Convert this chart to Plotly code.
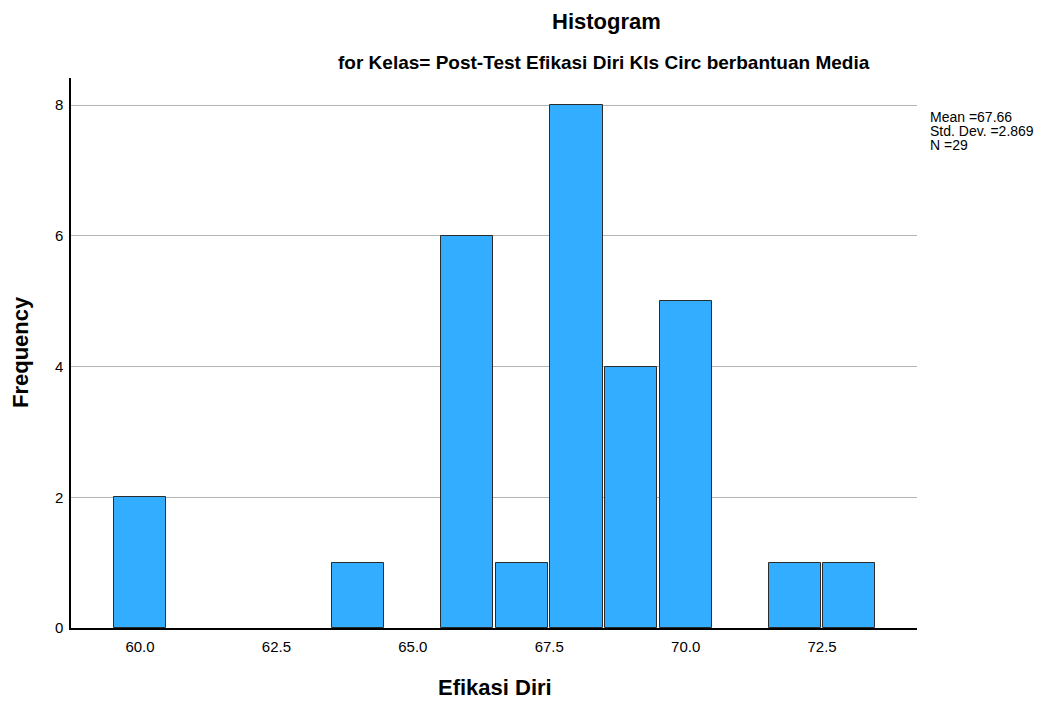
import plotly.graph_objects as go

# Data (bin centres, bin width 1)
bin_centers = [60, 64, 66, 67, 68, 69, 70, 72, 73]
frequencies = [2, 1, 6, 1, 8, 4, 5, 1, 1]
x_ticks = [60.0, 62.5, 65.0, 67.5, 70.0, 72.5]
x_tick_labels = ["60.0", "62.5", "65.0", "67.5", "70.0", "72.5"]
y_ticks = [0, 2, 4, 6, 8]
stats_lines = ["Mean =67.66", "Std. Dev. =2.869", "N =29"]

FONT = "Liberation Sans, Arial, sans-serif"

# page is offset by the 8px body margin; plot area in screen px: x 71..917, y 78..628
def px(X):
    return (X - 71) / 846

def py(Y):
    return (628 - Y) / 550

fig = go.Figure()
fig.add_trace(go.Bar(
    x=bin_centers,
    y=frequencies,
    width=0.955,
    marker=dict(color="#33adff", line=dict(color="#2b2b2b", width=1)),
    hoverinfo="x+y",
))

fig.update_layout(
    width=1049, height=695,
    margin=dict(l=63, r=140, t=70, b=75),
    paper_bgcolor="white", plot_bgcolor="white",
    font=dict(family=FONT, color="black", size=15),
    showlegend=False,
    bargap=0,
)

fig.update_xaxes(
    range=[58.735, 74.24],
    tickmode="array", tickvals=x_ticks, ticktext=x_tick_labels,
    showgrid=False, zeroline=False,
    showline=True, linecolor="black", linewidth=1.5,
    ticks="", ticklabelstandoff=4, tickfont=dict(size=15, family=FONT),
)
fig.update_yaxes(
    range=[0, 8.413],
    tickmode="array", tickvals=y_ticks,
    showgrid=True, gridcolor="#b4b4b4", gridwidth=1,
    zeroline=False,
    showline=True, linecolor="black", linewidth=1.5,
    ticks="", ticklabelstandoff=3, tickfont=dict(size=15, family=FONT),
)

ann_common = dict(xref="paper", yref="paper", showarrow=False)
fig.add_annotation(text="<b>Histogram</b>", x=px(606), y=py(21),
                   xanchor="center", yanchor="middle",
                   font=dict(size=22, family=FONT), **ann_common)
fig.add_annotation(text="<b>for Kelas= Post-Test Efikasi Diri Kls Circ berbantuan Media</b>",
                   x=px(604), y=py(62), xanchor="center", yanchor="middle",
                   font=dict(size=19, family=FONT), **ann_common)
fig.add_annotation(text="<b>Efikasi Diri</b>", x=px(495), y=py(687),
                   xanchor="center", yanchor="middle",
                   font=dict(size=22, family=FONT), **ann_common)
fig.add_annotation(text="<b>Frequency</b>", x=px(20), y=py(352), textangle=-90,
                   xanchor="center", yanchor="middle",
                   font=dict(size=22, family=FONT), **ann_common)

for i, line in enumerate(stats_lines):
    fig.add_annotation(text=line, x=px(929), y=py(117 + 14 * i),
                       xanchor="left", yanchor="middle", align="left",
                       borderpad=0,
                       font=dict(size=14, family=FONT), **ann_common)

fig.write_html("out.html")
